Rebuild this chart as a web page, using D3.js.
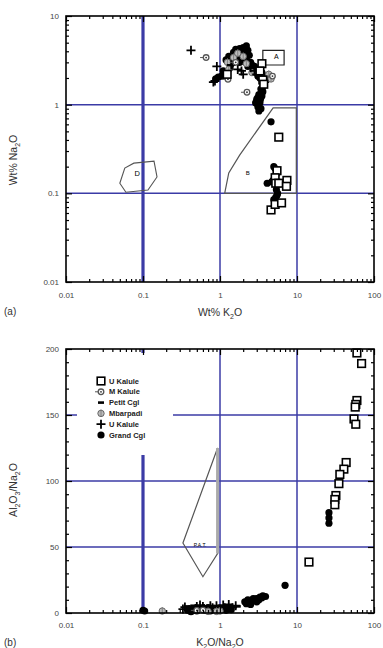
<!DOCTYPE html>
<html lang="en">
<head>
<meta charset="utf-8">
<title>K2O / Na2O plots</title>
<script src="https://d3js.org/d3.v7.min.js"></script>
<style>
    body { margin: 0; background: #fff; }
    svg text { font-family: "Liberation Sans", Arial, sans-serif; }
</style>
</head>
<body>
<svg width="383" height="648"></svg>
<script>
// ---------- panel (a): Wt% K2O vs Wt% Na2O ----------
const aUKalule = [[1.24, 2.2], [3.5, 2.9], [3.6, 1.9], [3.3, 2.4], [3.7, 1.7], [5.8, 0.43], [5.5, 0.18], [5.2, 0.15],
    [5.3, 0.13], [5.8, 0.13], [7.4, 0.14], [7.3, 0.12], [4.6, 0.065], [5.2, 0.075], [6.3, 0.078]];
const aMKalule = [[0.66, 3.4], [2.24, 1.38], [1.27, 1.93], [1.6, 3.0], [4.8, 2.1]];
const aMbarpadi = [[1.5, 3.4], [1.7, 3.8], [2.0, 3.5], [1.3, 2.5], [2.6, 2.3], [4.3, 2.2], [1.25, 3.0], [2.2, 2.9], [4.6, 1.95]];
const aPlus = [[0.42, 4.1], [0.91, 2.7], [0.82, 1.8], [1.9, 2.4], [2.5, 2.6], [3.0, 2.2], [1.4, 2.8], [2.0, 2.2],
    [1.7, 2.5], [2.8, 2.4], [0.86, 1.85]];
const aGrand = [[1.8, 4.3], [2.0, 4.4], [1.9, 4.0], [2.1, 3.8], [1.6, 3.6], [1.7, 3.3], [1.5, 3.1], [1.4, 2.9],
    [1.8, 3.0], [2.2, 3.2], [2.5, 3.0], [2.3, 2.7], [2.7, 2.5], [2.9, 2.3], [3.1, 2.1], [3.3, 2.0], [4.5, 2.05],
    [4.2, 2.0], [0.88, 1.95], [0.95, 2.05], [3.2, 1.3], [3.0, 1.15], [3.3, 1.05], [3.1, 0.95], [3.4, 0.9],
    [3.2, 0.85], [3.5, 1.25], [3.6, 1.4], [4.6, 0.64], [5.0, 0.2], [5.2, 0.19], [4.7, 0.135], [4.1, 0.13],
    [5.5, 0.095], [5.3, 0.09], [5.0, 0.085], [5.6, 0.1], [5.3, 0.16], [1.3, 3.5], [1.5, 3.9], [1.6, 4.2],
    [2.3, 4.1], [2.4, 3.6], [2.0, 3.1], [1.2, 3.2], [1.35, 2.6], [2.6, 2.8], [2.8, 2.7], [3.5, 2.3], [3.8, 2.1],
    [4.0, 1.9], [3.6, 1.6], [3.4, 1.5], [1.1, 2.4], [1.05, 2.1], [1.9, 3.5], [2.2, 4.6], [1.75, 3.9], [3.1, 1.2],
    [2.9, 1.05], [3.35, 1.15], [5.4, 0.17], [4.9, 0.14], [5.4, 0.11]];
// fields A, B, D
const fieldA = [[3.6, 2.8], [6.8, 2.8], [6.8, 4.1], [3.6, 4.1]];
const fieldB = [[1.15, 0.1], [1.3, 0.17], [1.8, 0.27], [4.9, 0.92], [9.8, 0.92], [9.8, 0.1]];
const fieldD = [[0.076, 0.219], [0.139, 0.231], [0.152, 0.153], [0.116, 0.109], [0.06, 0.103], [0.05, 0.13], [0.058, 0.193]];

// ---------- panel (b): K2O/Na2O vs Al2O3/Na2O ----------
const bUKalule = [[60, 197], [69, 189], [60, 161], [58, 158], [57, 156], [55, 147], [58, 143], [43.5, 114], [40.6, 109],
    [36, 105], [35, 98], [32, 89], [31, 86], [31, 82], [14.3, 38.6]];
const bMKalule = [[0.5, 2], [0.6, 2.2]];
const bPetit = [[0.38, 5], [0.45, 5.5], [0.55, 4], [0.65, 5], [1.2, 5], [1.5, 5], [0.42, 4.5], [0.7, 4.5],
    [0.85, 5], [1.05, 4.5], [1.35, 5.5], [1.7, 5]];
const bMbarpadi = [[0.178, 1.5], [0.9, 1.2], [1.0, 1.5], [0.7, 1.2]];
const bPlus = [[0.35, 4.5], [0.5, 5], [0.6, 5], [0.75, 5.5], [0.9, 5.5], [1.1, 6], [1.3, 6.5], [1.6, 5.5], [0.4, 2.5],
    [0.95, 3], [0.33, 3], [0.48, 3.5], [0.62, 3.5], [0.8, 4], [1.15, 4], [1.45, 4], [0.55, 6]];
const bGrand = [[26, 76], [26, 72], [26, 68], [7, 21], [2.2, 7], [2.4, 8], [2.6, 9], [2.8, 10], [3.0, 11], [3.3, 12],
    [3.6, 13], [3.9, 12.5], [2.5, 6.5], [3.0, 8.5], [0.45, 3], [0.55, 3.5], [0.7, 4], [0.8, 3], [0.1, 2], [0.105, 1.5],
    [2.1, 8.5], [2.3, 10], [2.7, 11], [3.2, 10], [3.5, 11.5], [0.38, 2], [0.5, 1.5], [0.65, 2], [0.75, 1.5],
    [0.85, 2.5], [1.0, 2.5], [1.2, 2], [1.4, 2.5], [0.42, 1]];
const fieldPAT = [[0.93, 125], [0.33, 53], [0.6, 27.5], [0.93, 45]];

const legendNames = ['U Kalule', 'M Kalule', 'Petit Cgl', 'Mbarpadi', 'U Kalule', 'Grand Cgl'];
const legendSyms = ['square', 'mcircle', 'dash', 'gray', 'plus', 'dot'];

// tick values and labels
const logMajor = [0.01, 0.1, 1, 10, 100];
const logLabels = ['0.01', '0.1', '1', '10', '100'];
const yMajorA = [0.01, 0.1, 1, 10];
const yLabelsA = ['0.01', '0.1', '1', '10'];
const yMajorB = [0, 50, 100, 150, 200];

const svg = d3.select('svg');
const blue = '#3b3ba6';

// scales
const xA = d3.scaleLog().domain([0.01, 100]).range([66, 374]);
const yA = d3.scaleLog().domain([0.01, 10]).range([282, 16]);
const xB = d3.scaleLog().domain([0.01, 100]).range([66, 374]);
const yB = d3.scaleLinear().domain([0, 200]).range([613, 349]);

//Minor log ticks = all 1..9 multiples that are not decades
const minorLog = sc => sc.ticks().filter(v => !logMajor.some(m => Math.abs(m - v) / m < 1e-6));

function sym(g, type, px, py) {
    if (type === 'square') {
        g.append('rect').attr('x', px - 3.8).attr('y', py - 3.8).attr('width', 7.6).attr('height', 7.6)
            .attr('fill', '#fff').attr('stroke', '#000').attr('stroke-width', 1.6);
    } else if (type === 'mcircle') {
        g.append('line').attr('x1', px - 6).attr('x2', px - 3).attr('y1', py).attr('y2', py)
            .attr('stroke', '#555').attr('stroke-width', 1);
        g.append('circle').attr('cx', px).attr('cy', py).attr('r', 2.8)
            .attr('fill', '#fff').attr('stroke', '#555').attr('stroke-width', 1.3);
        g.append('circle').attr('cx', px).attr('cy', py).attr('r', 0.9).attr('fill', '#333');
    } else if (type === 'dash') {
        g.append('rect').attr('x', px - 3).attr('y', py - 1.3).attr('width', 6).attr('height', 2.6).attr('fill', '#000');
    } else if (type === 'gray') {
        g.append('circle').attr('cx', px).attr('cy', py).attr('r', 3.2)
            .attr('fill', '#bbb').attr('stroke', '#666').attr('stroke-width', 1);
        g.append('line').attr('x1', px).attr('x2', px).attr('y1', py - 4).attr('y2', py + 3)
            .attr('stroke', '#777').attr('stroke-width', 0.8);
    } else if (type === 'plus') {
        g.append('path').attr('d', `M${px - 4.5},${py}H${px + 4.5}M${px},${py - 4.5}V${py + 4.5}`)
            .attr('stroke', '#000').attr('stroke-width', 1.8);
    } else {
        g.append('circle').attr('cx', px).attr('cy', py).attr('r', 3.6).attr('fill', '#000');
    }
}

function points(g, data, type, x, y) {
    data.forEach(d => sym(g, type, x(d[0]), y(d[1])));
}

function grid(g, x, y, xs, ys) {
    const [x0, x1] = x.range();
    const [y0, y1] = y.range();
    ys.forEach(v => g.append('line').attr('x1', x0).attr('x2', x1).attr('y1', y(v)).attr('y2', y(v))
        .attr('stroke', blue).attr('stroke-width', 1.5));
    xs.forEach(v => g.append('line').attr('x1', x(v)).attr('x2', x(v)).attr('y1', y0).attr('y2', y1)
        .attr('stroke', blue).attr('stroke-width', v === 0.1 ? 3.2 : 1.5));
}

function axes(g, x, y, yMajor, yMinor, yFmt, xPad) {
    const [x0, x1] = x.range();
    const [y0, y1] = y.range();
    const xMinor = minorLog(x);
    const clean = s => s.call(a => a.select('.domain').remove())
        .call(a => a.selectAll('.tick line').attr('stroke', '#000'));
    //bottom + top
    g.append('g').attr('transform', `translate(0,${y0})`)
        .call(d3.axisBottom(x).tickValues(xMinor).tickSize(-3).tickFormat('')).call(clean);
    g.append('g').attr('transform', `translate(0,${y0})`)
        .call(d3.axisBottom(x).tickValues(logMajor).tickSize(-6).tickPadding(xPad)
            .tickFormat((d, i) => logLabels[i])).call(clean);
    g.append('g').attr('transform', `translate(0,${y1})`)
        .call(d3.axisTop(x).tickValues(xMinor).tickSize(-3).tickFormat('')).call(clean);
    g.append('g').attr('transform', `translate(0,${y1})`)
        .call(d3.axisTop(x).tickValues(logMajor).tickSize(-6).tickFormat('')).call(clean);
    //left + right
    g.append('g').attr('transform', `translate(${x0},0)`)
        .call(d3.axisLeft(y).tickValues(yMinor).tickSize(-3).tickFormat('')).call(clean);
    g.append('g').attr('transform', `translate(${x0},0)`)
        .call(d3.axisLeft(y).tickValues(yMajor).tickSize(-6).tickPadding(7).tickFormat(yFmt)).call(clean);
    g.append('g').attr('transform', `translate(${x1},0)`)
        .call(d3.axisRight(y).tickValues(yMinor).tickSize(-3).tickFormat('')).call(clean);
    g.append('g').attr('transform', `translate(${x1},0)`)
        .call(d3.axisRight(y).tickValues(yMajor).tickSize(-6).tickFormat('')).call(clean);
    g.selectAll('.tick text').attr('font-size', 8).attr('fill', '#444');
    g.selectAll('.tick line').attr('stroke-width', 1.2);
    g.append('rect').attr('x', x0).attr('y', y1).attr('width', x1 - x0).attr('height', y0 - y1)
        .attr('fill', 'none').attr('stroke', '#000').attr('stroke-width', 1.6);
}

function title(x, y, parts, rot) {
    const t = svg.append('text').attr('text-anchor', 'middle').attr('font-size', 10.5).attr('fill', '#333')
        .attr('transform', `translate(${x},${y})` + (rot ? ' rotate(-90)' : ''));
    parts.forEach((p, i) => {
        const prevSub = i > 0 && parts[i - 1][1];
        t.append('tspan').text(p[0]).attr('font-size', p[1] ? 7 : 10.5).attr('dy', p[1] ? 2.5 : (prevSub ? -2.5 : 0));
    });
}

const line = (x, y) => d3.line().x(d => x(d[0])).y(d => y(d[1]));

// ----- panel (a) -----
const gA = svg.append('g');
grid(gA, xA, yA, [0.1, 1, 10], [0.1, 1]);
gA.append('path').attr('d', line(xA, yA)(fieldA) + 'Z').attr('fill', 'none').attr('stroke', '#222').attr('stroke-width', 1.2);
gA.append('path').attr('d', line(xA, yA)(fieldB) + 'Z').attr('fill', 'none').attr('stroke', '#555').attr('stroke-width', 1.2);
gA.append('path').attr('d', line(xA, yA).curve(d3.curveLinearClosed)(fieldD)).attr('fill', 'none').attr('stroke', '#555').attr('stroke-width', 1.1);
gA.append('text').attr('x', xA(5.4)).attr('y', yA(3.3)).attr('font-size', 7).attr('text-anchor', 'middle').text('A');
gA.append('text').attr('x', xA(2.3)).attr('y', yA(0.16)).attr('font-size', 6).attr('text-anchor', 'middle').text('B');
gA.append('text').attr('x', xA(0.084)).attr('y', yA(0.155)).attr('font-size', 7.5).attr('text-anchor', 'middle').text('D');
points(gA, aGrand, 'dot', xA, yA);
points(gA, aMbarpadi, 'gray', xA, yA);
points(gA, aPlus, 'plus', xA, yA);
points(gA, aMKalule, 'mcircle', xA, yA);
points(gA, aUKalule, 'square', xA, yA);
axes(gA, xA, yA, yMajorA, minorLog(yA), (d, i) => yLabelsA[i], 10);

// ----- panel (b) -----
const gB = svg.append('g');
grid(gB, xB, yB, [0.1, 1, 10], [50, 100, 150]);
//Legend box hides gridlines behind it
gB.append('rect').attr('x', 77).attr('y', 353).attr('width', 96).attr('height', 102).attr('fill', '#fff');
gB.append('path').attr('d', line(xB, yB)(fieldPAT) + 'Z').attr('fill', 'none').attr('stroke', '#555').attr('stroke-width', 1.2);
gB.append('line').attr('x1', xB(0.93)).attr('x2', xB(0.93)).attr('y1', yB(125)).attr('y2', yB(45))
    .attr('stroke', '#aaa').attr('stroke-width', 3);
gB.append('text').attr('x', xB(0.55)).attr('y', yB(50)).attr('font-size', 5).attr('text-anchor', 'middle').text('P.A.T.');
points(gB, bGrand, 'dot', xB, yB);
points(gB, bPetit, 'dash', xB, yB);
points(gB, bPlus, 'plus', xB, yB);
points(gB, bMbarpadi, 'gray', xB, yB);
points(gB, bMKalule, 'mcircle', xB, yB);
points(gB, bUKalule, 'square', xB, yB);
legendNames.forEach((n, i) => {
    const ly = 381 + i * 10.8;
    sym(gB, legendSyms[i], 101, ly);
    gB.append('text').attr('x', 109).attr('y', ly + 2.5).attr('font-size', 7.5).attr('font-weight', 'bold')
        .attr('fill', '#222').text(n);
});
axes(gB, xB, yB, yMajorB, d3.range(0, 201, 10).filter(v => v % 50), d => d, 9);

// ----- titles -----
title(220, 316, [['Wt% K'], ['2', 1], ['O']]);
title(17, 160, [['Wt% Na'], ['2', 1], ['O']], true);
title(220, 646, [['K'], ['2', 1], ['O/Na'], ['2', 1], ['O']]);
title(17, 490, [['Al'], ['2', 1], ['O'], ['3', 1], ['/Na'], ['2', 1], ['O']], true);
svg.append('text').attr('x', 4).attr('y', 315).attr('font-size', 10).attr('fill', '#333').text('(a)');
svg.append('text').attr('x', 4).attr('y', 646).attr('font-size', 10).attr('fill', '#333').text('(b)');
</script>
</body>
</html>
